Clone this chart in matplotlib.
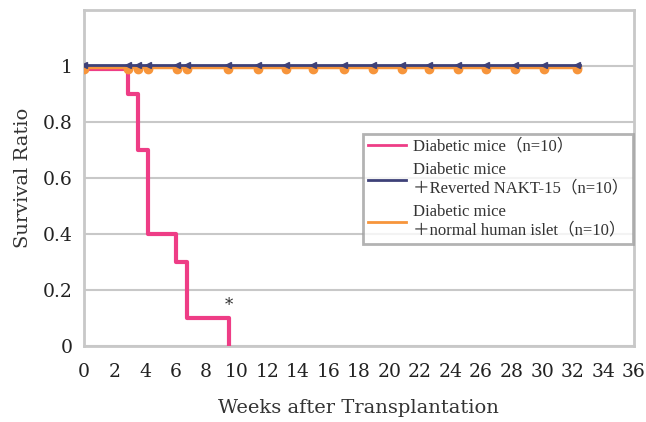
import numpy as np
import matplotlib.pyplot as plt

plt.rcParams['font.family'] = ['DejaVu Serif', 'Noto Sans CJK JP', 'DejaVu Sans']

# pink: diabetic mice, step survival curve
dm_weeks = [0, 2.85, 3.55, 4.2, 6.05, 6.77, 9.5]
dm_surv = [1.0, 0.9, 0.7, 0.4, 0.3, 0.1, 0.0]

# censor marks for the two treated groups
cens_weeks = [0, 2.85, 3.55, 4.2, 6.1, 6.77, 9.46, 11.4, 13.2, 15.0, 17.0,
              18.9, 20.8, 22.6, 24.5, 26.3, 28.2, 30.1, 32.3]
end_week = 32.5

labels = ['Diabetic mice（n=10）',
          'Diabetic mice\n＋Reverted NAKT-15（n=10）',
          'Diabetic mice\n＋normal human islet（n=10）']
pink = '#ee3d86'
navy = '#3e4178'
orange = '#f7953b'

fig = plt.figure(figsize=(6.46, 4.22), dpi=100)
ax = fig.add_axes([0.130, 0.180, 0.851, 0.797])

# pink step curve
xs = [dm_weeks[0]]
ys = [dm_surv[0] - 0.012]
for i in range(1, len(dm_weeks)):
    xs += [dm_weeks[i], dm_weeks[i]]
    ys += [ys[-1], dm_surv[i]]
ax.plot(xs, ys, color=pink, lw=3, solid_capstyle='projecting', zorder=3,
        label=labels[0])

# orange and navy flat lines with censor marks
ax.plot([0, end_week], [0.995, 0.995], color=orange, lw=2.5, zorder=4,
        label=labels[2])
ax.plot(cens_weeks, [0.99] * len(cens_weeks), 'o', color=orange, ms=6,
        zorder=4)
ax.plot([0, end_week], [1.003, 1.003], color=navy, lw=2, zorder=5,
        label=labels[1])
ax.plot(cens_weeks, [1.003] * len(cens_weeks), '<', color=navy, ms=5,
        zorder=5)

ax.text(9.5, 0.115, '*', ha='center', va='bottom', fontsize=12, color='#333333')

ax.set_xlim(0, 36)
ax.set_ylim(0, 1.2)
ax.set_xticks(np.arange(0, 37, 2))
ax.set_yticks([0, 0.2, 0.4, 0.6, 0.8, 1])
ax.set_yticklabels(['0', '0.2', '0.4', '0.6', '0.8', '1'])
ax.tick_params(length=0, labelsize=13.5, colors='#222222')
ax.tick_params(axis='x', pad=12)
ax.tick_params(axis='y', pad=8)
ax.grid(axis='y', color='#c8c8c8', lw=1.5)
ax.set_axisbelow(True)
for s in ax.spines.values():
    s.set_color('#c8c8c8')
    s.set_linewidth(2)

ax.set_xlabel('Weeks after Transplantation', fontsize=14, color='#333333',
              labelpad=13)
ax.set_ylabel('Survival Ratio', fontsize=14, color='#333333', labelpad=8)

h, l = ax.get_legend_handles_labels()
leg = ax.legend([h[0], h[2], h[1]], [l[0], l[2], l[1]],
                loc='upper left', bbox_to_anchor=(0.492, 0.656),
                prop={'family': ['Liberation Serif', 'Noto Sans CJK JP'],
                      'size': 12},
                frameon=True, fancybox=False,
                handlelength=2.3, handletextpad=0.4, labelspacing=0.45,
                borderpad=0.3)
leg.get_frame().set_edgecolor('#a0a0a0')
leg.get_frame().set_linewidth(2)
for line in leg.get_lines():
    line.set_linewidth(2)
for t in leg.get_texts():
    t.set_color('#333333')

fig.savefig('out.png', dpi=100)
